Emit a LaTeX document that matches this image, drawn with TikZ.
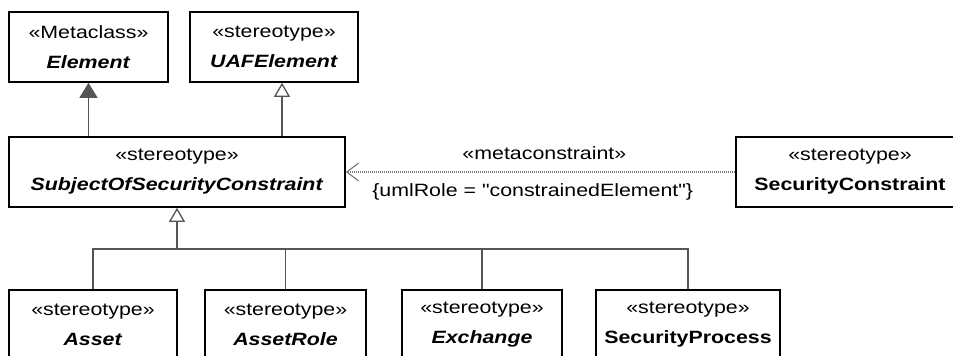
\documentclass[tikz,border=0pt]{standalone}
\usepackage{fontspec}
\setmainfont{Liberation Sans}[FakeStretch=1.2,Ligatures=TeXOff]
\usetikzlibrary{arrows.meta}
\definecolor{lnk}{HTML}{555555}
\begin{document}
\begin{tikzpicture}[x=1pt,y=1pt,
  cls/.style={draw,line width=1.6pt,minimum height=70pt,inner sep=0pt,align=center,font=\fontsize{17.8}{30}\selectfont},
  lbl/.style={inner sep=0pt,font=\fontsize{17.8}{21}\selectfont},
  gen/.style={-{Triangle[open,length=14pt,width=16pt]},line width=1.3pt,draw=lnk},
  ext/.style={-{Triangle[length=15pt,width=18pt]},line width=1.3pt,draw=lnk},
  tree/.style={line width=1.3pt,draw=lnk},
  dep/.style={-{Straight Barb[length=12pt,width=18pt,line width=1.2pt]},line width=1.2pt,draw=gray,dash pattern=on 1pt off 1pt}
]
\useasboundingbox (0,0) rectangle (953,-356);
\clip (0,0) rectangle (953,-356);
% top row
\node[cls,minimum width=159pt] (elem) at (88.5,-47) {«Metaclass»\\\textbf{\textit{Element}}};
\node[cls,minimum width=168pt] (uaf) at (274,-47) {«stereotype»\\\textbf{\textit{UAFElement}}};
% middle row
\node[cls,minimum width=336pt] (subj) at (177,-172) {«stereotype»\\\textbf{\textit{SubjectOfSecurityConstraint}}};
\node[cls,minimum width=228pt] (secc) at (850,-172) {«stereotype»\\\textbf{SecurityConstraint}};
% bottom row
\node[cls,minimum width=168pt] (asset) at (93,-325) {«stereotype»\\\textbf{\textit{Asset}}};
\node[cls,minimum width=161pt] (arole) at (285.5,-325) {«stereotype»\\\textbf{\textit{AssetRole}}};
\node[cls,minimum width=160pt] (exch) at (482,-325) {«stereotype»\\\textbf{\textit{Exchange}}};
\node[cls,minimum width=184pt] (secp) at (688,-325) {«stereotype»\\\textbf{SecurityProcess}};
% generalizations
\coordinate (ua) at ([xshift=8pt]uaf.south);
\coordinate (bus) at (177,-249);
\draw[ext] (elem.south |- subj.north) -- (elem.south);
\draw[gen] (ua |- subj.north) -- (ua);
\draw[gen] (bus) -- (subj.south);
\draw[tree] (asset.north) |- (bus) -| (secp.north);
\draw[tree] (arole.north) -- (arole.north |- bus);
\draw[tree] (exch.north) -- (exch.north |- bus);
% metaconstraint
\draw[dep] (secc) -- (subj)
  node[lbl,pos=0.49,above=12pt] {«metaconstraint»}
  node[lbl,pos=0.52,below=11pt] {\{umlRole = "constrainedElement"\}};
\end{tikzpicture}
\end{document}
